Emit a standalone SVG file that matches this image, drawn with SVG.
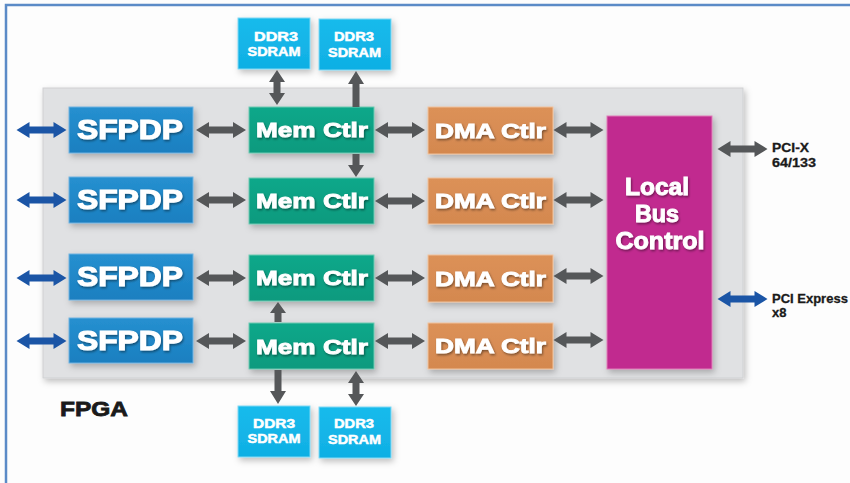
<svg xmlns="http://www.w3.org/2000/svg" xmlns:xlink="http://www.w3.org/1999/xlink" width="850" height="483" viewBox="0 0 850 483">
<style>
.t{font-family:"Liberation Sans",Arial,sans-serif;font-weight:bold;fill:#fff;stroke:#fff;stroke-width:0.9;text-anchor:middle;}
.big{font-size:27px;stroke-width:1.1;}
.mid{font-size:21px;}
.lbc{font-size:23px;}
.ddr{font-size:13px;stroke-width:0.5;}
.lab{font-family:"Liberation Sans",Arial,sans-serif;font-weight:bold;fill:#1a1a1a;stroke:#1a1a1a;stroke-width:0.3;}
.gray{fill:#555759;}
.blue{fill:#1b55a6;}
.sf{fill:url(#gSf);stroke:#6fb2e0;stroke-width:1;}
.mem{fill:url(#gMem);stroke:#6cc9b2;stroke-width:1;}
.dma{fill:url(#gDma);stroke:#f0c29c;stroke-width:1;}
.lb{fill:#c12a8f;stroke:#e07ab8;stroke-width:1;}
.dd{fill:url(#gDd);stroke:#7fd8f4;stroke-width:1;}
</style>
<defs>
<linearGradient id="gSf" x1="0" y1="0" x2="0" y2="1"><stop offset="0" stop-color="#2690d0"/><stop offset="1" stop-color="#1b7fc0"/></linearGradient>
<linearGradient id="gMem" x1="0" y1="0" x2="0" y2="1"><stop offset="0" stop-color="#0fa88a"/><stop offset="1" stop-color="#0c9a7e"/></linearGradient>
<linearGradient id="gDma" x1="0" y1="0" x2="0" y2="1"><stop offset="0" stop-color="#dc9158"/><stop offset="1" stop-color="#d4884f"/></linearGradient>
<linearGradient id="gDd" x1="0" y1="0" x2="0" y2="1"><stop offset="0" stop-color="#18bbec"/><stop offset="1" stop-color="#0fafe4"/></linearGradient>
<filter id="sh" x="-20%" y="-20%" width="140%" height="150%"><feDropShadow dx="2" dy="3" stdDeviation="3" flood-color="#000" flood-opacity="0.25"/></filter>
<filter id="ts" x="-10%" y="-20%" width="120%" height="150%"><feDropShadow dx="1" dy="1.5" stdDeviation="1.2" flood-color="#000" flood-opacity="0.45"/></filter>
<path id="dbl" d="M-25 0 L-12 -8 L-12 -3.5 L12 -3.5 L12 -8 L25 0 L12 8 L12 3.5 L-12 3.5 L-12 8 Z"/>
</defs>
<rect x="0" y="0" width="850" height="483" fill="#fdfdfd"/>
<path d="M6 483 L6 5 L850 5" fill="none" stroke="#5b8bc7" stroke-width="2.5"/>

<g id="fpga">
<rect x="43" y="88" width="700" height="290" fill="#e0e1e3" stroke="#cfd0d2" stroke-width="1" filter="url(#sh)"/>
<text class="lab" x="60" y="416" font-size="21" textLength="68" lengthAdjust="spacingAndGlyphs" style="stroke-width:0.8">FPGA</text>
</g>

<g id="sfpdp1"><rect class="sf" x="69" y="107" width="124" height="46" filter="url(#sh)"/><text class="t big" x="130" y="139" textLength="106" lengthAdjust="spacingAndGlyphs" filter="url(#ts)">SFPDP</text></g>
<g id="sfpdp2"><rect class="sf" x="69" y="177" width="124" height="46" filter="url(#sh)"/><text class="t big" x="130" y="209" textLength="106" lengthAdjust="spacingAndGlyphs" filter="url(#ts)">SFPDP</text></g>
<g id="sfpdp3"><rect class="sf" x="69" y="254" width="124" height="46" filter="url(#sh)"/><text class="t big" x="130" y="286" textLength="106" lengthAdjust="spacingAndGlyphs" filter="url(#ts)">SFPDP</text></g>
<g id="sfpdp4"><rect class="sf" x="69" y="318" width="124" height="45" filter="url(#sh)"/><text class="t big" x="130" y="350" textLength="106" lengthAdjust="spacingAndGlyphs" filter="url(#ts)">SFPDP</text></g>

<g id="mem1"><rect class="mem" x="249" y="107" width="125" height="46" filter="url(#sh)"/><text class="t mid" x="312" y="137" textLength="112" lengthAdjust="spacingAndGlyphs" filter="url(#ts)">Mem Ctlr</text></g>
<g id="mem2"><rect class="mem" x="249" y="178" width="125" height="46" filter="url(#sh)"/><text class="t mid" x="312" y="208" textLength="112" lengthAdjust="spacingAndGlyphs" filter="url(#ts)">Mem Ctlr</text></g>
<g id="mem3"><rect class="mem" x="249" y="255" width="125" height="46" filter="url(#sh)"/><text class="t mid" x="312" y="285" textLength="112" lengthAdjust="spacingAndGlyphs" filter="url(#ts)">Mem Ctlr</text></g>
<g id="mem4"><rect class="mem" x="249" y="323" width="125" height="46" filter="url(#sh)"/><text class="t mid" x="312" y="354" textLength="112" lengthAdjust="spacingAndGlyphs" filter="url(#ts)">Mem Ctlr</text></g>

<g id="dma1"><rect class="dma" x="428" y="107" width="125" height="47" filter="url(#sh)"/><text class="t mid" x="490.5" y="138" font-size="22" textLength="111" lengthAdjust="spacingAndGlyphs" filter="url(#ts)">DMA Ctlr</text></g>
<g id="dma2"><rect class="dma" x="428" y="178" width="125" height="46" filter="url(#sh)"/><text class="t mid" x="490.5" y="208" font-size="22" textLength="111" lengthAdjust="spacingAndGlyphs" filter="url(#ts)">DMA Ctlr</text></g>
<g id="dma3"><rect class="dma" x="428" y="255" width="125" height="47" filter="url(#sh)"/><text class="t mid" x="490.5" y="286" font-size="22" textLength="111" lengthAdjust="spacingAndGlyphs" filter="url(#ts)">DMA Ctlr</text></g>
<g id="dma4"><rect class="dma" x="428" y="323" width="125" height="46" filter="url(#sh)"/><text class="t mid" x="490.5" y="353" font-size="22" textLength="111" lengthAdjust="spacingAndGlyphs" filter="url(#ts)">DMA Ctlr</text></g>

<g id="lbc"><rect class="lb" x="607" y="116" width="105" height="253" filter="url(#sh)"/>
<text class="t lbc" x="657" y="195" textLength="64" lengthAdjust="spacingAndGlyphs" filter="url(#ts)">Local</text>
<text class="t lbc" x="657" y="222" textLength="44" lengthAdjust="spacingAndGlyphs" filter="url(#ts)">Bus</text>
<text class="t lbc" x="660" y="249" textLength="89" lengthAdjust="spacingAndGlyphs" filter="url(#ts)">Control</text>
</g>

<g id="ddr1"><rect class="dd" x="238" y="18" width="72" height="51" filter="url(#sh)"/><text class="t ddr" x="276" y="41" textLength="44" lengthAdjust="spacingAndGlyphs">DDR3</text><text class="t ddr" x="274" y="56" textLength="53" lengthAdjust="spacingAndGlyphs">SDRAM</text></g>
<g id="ddr2"><rect class="dd" x="319" y="19" width="72" height="51" filter="url(#sh)"/><text class="t ddr" x="354" y="41" textLength="40" lengthAdjust="spacingAndGlyphs">DDR3</text><text class="t ddr" x="354.5" y="57" textLength="53" lengthAdjust="spacingAndGlyphs">SDRAM</text></g>
<g id="ddr3"><rect class="dd" x="238" y="406" width="72" height="51" filter="url(#sh)"/><text class="t ddr" x="274" y="428" textLength="42" lengthAdjust="spacingAndGlyphs">DDR3</text><text class="t ddr" x="274" y="443" textLength="53" lengthAdjust="spacingAndGlyphs">SDRAM</text></g>
<g id="ddr4"><rect class="dd" x="319" y="407" width="72" height="51" filter="url(#sh)"/><text class="t ddr" x="354" y="428" textLength="40" lengthAdjust="spacingAndGlyphs">DDR3</text><text class="t ddr" x="354.5" y="444" textLength="53" lengthAdjust="spacingAndGlyphs">SDRAM</text></g>

<g id="ext-labels">
<text class="lab" x="772" y="152" font-size="13" textLength="37" lengthAdjust="spacingAndGlyphs">PCI-X</text>
<text class="lab" x="772" y="167" font-size="13" textLength="44" lengthAdjust="spacingAndGlyphs">64/133</text>
<text class="lab" x="772" y="303" font-size="13">PCI Express</text>
<text class="lab" x="772" y="317" font-size="13">x8</text>
</g>

<g id="connectors">
<use href="#dbl" class="blue" x="41.5" y="130"/>
<use href="#dbl" class="blue" x="41.5" y="200"/>
<use href="#dbl" class="blue" x="41.5" y="278"/>
<use href="#dbl" class="blue" x="41.5" y="341"/>
<use href="#dbl" class="gray" x="221" y="130"/>
<use href="#dbl" class="gray" x="221" y="200"/>
<use href="#dbl" class="gray" x="221" y="278"/>
<use href="#dbl" class="gray" x="221" y="341"/>
<use href="#dbl" class="gray" x="400" y="130"/>
<use href="#dbl" class="gray" x="400" y="201"/>
<use href="#dbl" class="gray" x="400" y="278"/>
<use href="#dbl" class="gray" x="400" y="341"/>
<use href="#dbl" class="gray" x="578.5" y="130"/>
<use href="#dbl" class="gray" x="578.5" y="200"/>
<use href="#dbl" class="gray" x="578.5" y="276"/>
<use href="#dbl" class="gray" x="578.5" y="340"/>
<use href="#dbl" class="gray" x="742.5" y="149"/>
<use href="#dbl" class="blue" x="742.5" y="299"/>
<path class="gray" d="M277 70 L285 82 L280.5 82 L280.5 93 L285 93 L277 105 L269 93 L273.5 93 L273.5 82 L269 82 Z"/>
<path class="gray" d="M356 71 L364 84 L359.5 84 L359.5 107 L352.5 107 L352.5 84 L348 84 Z"/>
<path class="gray" d="M356 177 L364 165 L359.5 165 L359.5 154 L352.5 154 L352.5 165 L348 165 Z"/>
<path class="gray" d="M278 302 L286 313 L281.5 313 L281.5 322 L274.5 322 L274.5 313 L270 313 Z"/>
<path class="gray" d="M278 404 L286 391 L281.5 391 L281.5 370 L274.5 370 L274.5 391 L270 391 Z"/>
<path class="gray" d="M356 371 L364 383 L359.5 383 L359.5 394 L364 394 L356 406 L348 394 L352.5 394 L352.5 383 L348 383 Z"/>
</g>
</svg>
